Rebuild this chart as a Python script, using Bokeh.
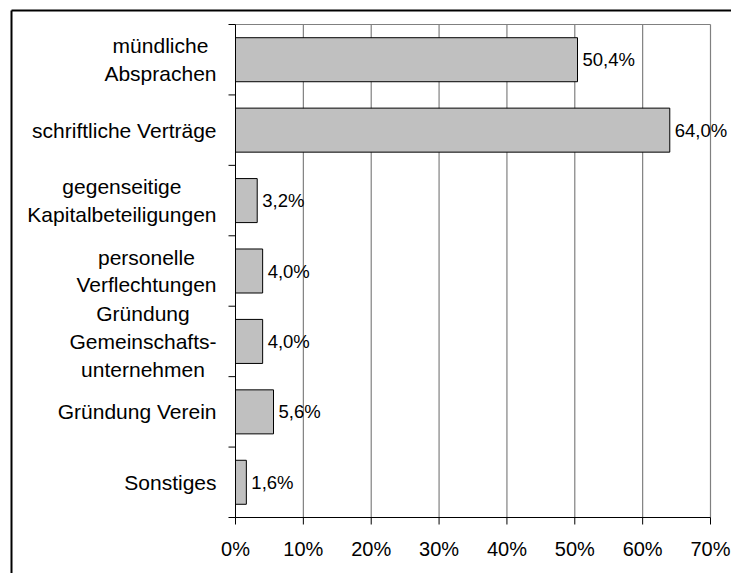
import math
from bokeh.plotting import figure
from bokeh.models import Range1d, ColumnDataSource
from bokeh.core.properties import value
from bokeh.embed import file_html
from bokeh.resources import INLINE

categories = [
    "mündliche\nAbsprachen",
    "schriftliche Verträge",
    "gegenseitige\nKapitalbeteiligungen",
    "personelle\nVerflechtungen",
    "Gründung\nGemeinschafts-\nunternehmen",
    "Gründung Verein",
    "Sonstiges",
]
values = [50.4, 64.0, 3.2, 4.0, 4.0, 5.6, 1.6]
x_ticks = [0, 10, 20, 30, 40, 50, 60, 70]
x_tick_labels = ["0%", "10%", "20%", "30%", "40%", "50%", "60%", "70%"]

n = len(categories)
ypos = [n - i for i in range(n)]
boundaries = [i + 0.5 for i in range(n + 1)]
value_text = [("%.1f%%" % v).replace(".", ",") for v in values]

# ---- layout (canvas pixels) ----
W, H = 731, 573
plot_left, plot_right = 235, 710     # canvas x of 0% and 70%
plot_top, plot_bottom = 24, 517      # canvas y of top and bottom of plot area
frame_left, frame_top = 11, 10       # outer chart border corner
x_lo, x_hi = x_ticks[0], x_ticks[-1]
y_lo, y_hi = boundaries[0], boundaries[-1]
sx = (plot_right - plot_left) / (x_hi - x_lo)
sy = (plot_bottom - plot_top) / (y_hi - y_lo)
x_start = x_lo - plot_left / sx
x_end = x_hi + (W - plot_right) / sx
y_start = y_lo - (H - plot_bottom) / sy
y_end = y_hi + plot_top / sy
x_range = Range1d(x_start, x_end)
y_range = Range1d(y_start, y_end)

FONT = value("Liberation Sans")

p = figure(width=W, height=H, output_backend="svg", toolbar_location=None,
           x_range=x_range, y_range=y_range,
           x_axis_location=None, y_axis_location=None,
           min_border=0, min_border_left=0, min_border_right=0,
           min_border_top=0, min_border_bottom=0)
p.grid.visible = False
p.outline_line_color = None
p.background_fill_color = "white"
p.border_fill_color = "white"

# outer chart border (top and left edges; the rest lies outside the window)
fx = x_start + frame_left / sx
fy = y_end - frame_top / sy
p.segment(x0=[fx, fx], y0=[fy, fy], x1=[x_end + 1, fx], y1=[fy, y_start - 1],
          line_color="black", line_width=2)

# vertical gridlines and top border of plot area (gray)
p.segment(x0=x_ticks[1:], y0=y_lo, x1=x_ticks[1:], y1=y_hi,
          line_color="#808080", line_width=1.2)
p.segment(x0=[x_lo], y0=[y_hi], x1=[x_hi], y1=[y_hi],
          line_color="#808080", line_width=1.2)

# bars
src = ColumnDataSource(dict(y=ypos, v=values, t=value_text, c=categories))
p.hbar(y="y", right="v", left=0, height=0.625, source=src,
       fill_color="#C0C0C0", line_color="#000000", line_width=1)

# axes lines
p.segment(x0=[x_lo], y0=[y_lo], x1=[x_lo], y1=[y_hi], line_color="black", line_width=1)
p.segment(x0=[x_lo], y0=[y_lo], x1=[x_hi], y1=[y_lo], line_color="black", line_width=1)

# ticks
p.ray(x=[x_lo] * len(boundaries), y=boundaries, length=7, length_units="screen",
      angle=math.pi, line_color="black", line_width=1)
p.ray(x=x_ticks, y=[y_lo] * len(x_ticks), length=7, length_units="screen",
      angle=-math.pi / 2, line_color="black", line_width=1)

# x tick labels
p.text(x=x_ticks, y=[y_lo] * len(x_ticks), text=x_tick_labels, y_offset=31,
       text_align="center", text_baseline="middle", text_font=FONT,
       text_font_size="20px", text_color="black")

# value labels
p.text(x="v", y="y", text="t", source=src, x_offset=5,
       text_align="left", text_baseline="middle", text_font=FONT,
       text_font_size="18.5px", text_color="black")

# category labels
p.text(x=0, y="y", text="c", source=src, x_offset=-19,
       anchor="center_right", text_align="center", text_baseline="middle",
       text_font=FONT, text_font_size="21px", text_color="black",
       text_line_height=1.2)

open("out.html", "w").write(file_html(p, INLINE))
